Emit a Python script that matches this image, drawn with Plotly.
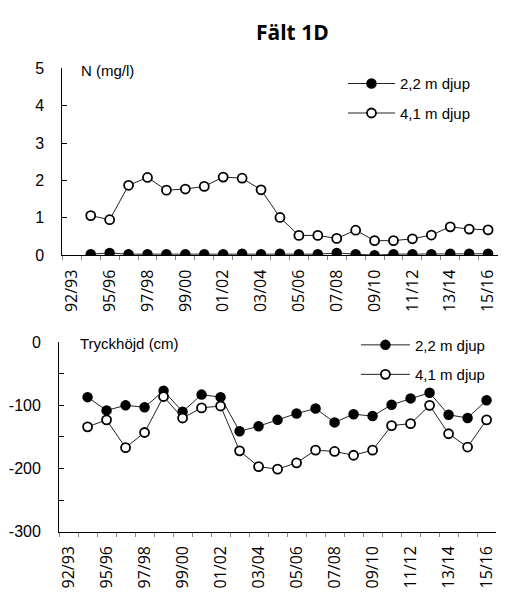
import plotly.graph_objects as go

# ---- data ----
seasons = ["92/93", "94/95", "95/96", "96/97", "97/98", "98/99", "99/00", "00/01",
           "01/02", "02/03", "03/04", "04/05", "05/06", "06/07", "07/08", "08/09",
           "09/10", "10/11", "11/12", "12/13", "13/14", "14/15", "15/16"]
season_labels = [s if i % 2 == 0 else "" for i, s in enumerate(seasons)]
data_seasons = seasons[1:]

n_22 = [0.03, 0.06, 0.03, 0.03, 0.03, 0.03, 0.03, 0.03, 0.04, 0.03, 0.04,
        0.03, 0.03, 0.06, 0.03, 0.0, 0.03, 0.03, 0.03, 0.04, 0.04, 0.04]
n_41 = [1.06, 0.95, 1.87, 2.08, 1.74, 1.77, 1.84, 2.09, 2.06, 1.75, 1.01,
        0.53, 0.53, 0.45, 0.67, 0.39, 0.39, 0.44, 0.54, 0.76, 0.70, 0.68]

p_22 = [-87, -108, -100, -103, -77, -110, -83, -87, -141, -133, -123,
        -113, -105, -127, -114, -117, -99, -89, -80, -115, -120, -92]
p_41 = [-134, -123, -167, -143, -86, -120, -104, -101, -172, -197, -201,
        -191, -171, -173, -179, -171, -132, -129, -100, -145, -166, -123]

series_names = ["2,2 m djup", "4,1 m djup"]
n_ticks = [0, 1, 2, 3, 4, 5]
p_ticks = [0, -50, -100, -150, -200, -250, -300]
p_ticktext = ["0", "", "-100", "", "-200", "", "-300"]

title = "Fält 1D"
top_label = "N (mg/l)"
bottom_label = "Tryckhöjd (cm)"

# ---- styles ----
W, H = 511, 597
SANS = "Liberation Sans, Arial, sans-serif"
XFONT = "Open Sans, Lato, sans-serif"
LINE = dict(color="#222222", width=1)
FILLED = dict(symbol="circle", size=9, color="black", line=dict(color="black", width=1.5))
OPEN = dict(symbol="circle", size=9, color="white", line=dict(color="black", width=1.8))


def fx(px):
    return px / W


def fy(py):
    return 1 - py / H


fig = go.Figure()
fig.add_trace(go.Scatter(x=data_seasons, y=n_22, name=series_names[0], mode="lines+markers",
                         line=LINE, marker=FILLED, xaxis="x", yaxis="y", legend="legend",
                         legendgroup="a"))
fig.add_trace(go.Scatter(x=data_seasons, y=n_41, name=series_names[1], mode="lines+markers",
                         line=LINE, marker=OPEN, xaxis="x", yaxis="y", legend="legend",
                         legendgroup="b"))
fig.add_trace(go.Scatter(x=data_seasons, y=p_22, name=series_names[0], mode="lines+markers",
                         line=LINE, marker=FILLED, xaxis="x2", yaxis="y2", legend="legend2",
                         legendgroup="c"))
fig.add_trace(go.Scatter(x=data_seasons, y=p_41, name=series_names[1], mode="lines+markers",
                         line=LINE, marker=OPEN, xaxis="x2", yaxis="y2", legend="legend2",
                         legendgroup="d"))

xcommon = dict(type="category", categoryorder="array", categoryarray=seasons,
               range=[-0.5, len(seasons) - 0.5], tickmode="array", tickvals=seasons,
               ticktext=season_labels, tickangle=-90, ticks="outside", tickson="boundaries",
               ticklen=4, tickcolor="#888888", tickwidth=1, showline=True, linecolor="black",
               linewidth=1, showgrid=False, zeroline=False,
               tickfont=dict(family=XFONT, size=16, color="black"), ticklabelstandoff=7)
ycommon = dict(ticks="inside", ticklen=5, tickcolor="black", tickwidth=1, showline=True,
               linecolor="black", linewidth=1, showgrid=False, zeroline=False,
               tickfont=dict(family=SANS, size=16, color="black"), ticklabelstandoff=14)

fig.update_layout(
    width=W, height=H, margin=dict(l=0, r=0, t=0, b=0),
    paper_bgcolor="white", plot_bgcolor="white",
    xaxis=dict(domain=[fx(60.7), fx(498.5)], anchor="y", **xcommon),
    yaxis=dict(domain=[fy(254.5), fy(62)], anchor="x", range=[0, 5], tickvals=n_ticks, **ycommon),
    xaxis2=dict(domain=[fx(57.4), fx(497)], anchor="y2", **xcommon),
    yaxis2=dict(domain=[fy(539), fy(344)], anchor="x2", range=[-300, 0], tickvals=p_ticks,
                ticktext=p_ticktext, **ycommon),
    legend=dict(x=fx(343), y=fy(61), xanchor="left", yanchor="top", bgcolor="rgba(0,0,0,0)",
                font=dict(family=SANS, size=15, color="black"), itemwidth=47,
                tracegroupgap=7),
    legend2=dict(x=fx(356), y=fy(330), xanchor="left", yanchor="top", bgcolor="rgba(0,0,0,0)",
                 font=dict(family=SANS, size=15, color="black"), itemwidth=49,
                 tracegroupgap=7),
    annotations=[
        dict(text="<b>%s</b>" % title, x=fx(292), y=fy(25), xref="paper", yref="paper",
             showarrow=False, xanchor="center", yanchor="middle",
             font=dict(family="Open Sans, sans-serif", size=21, color="black")),
        dict(text=top_label, x=fx(77), y=fy(64), xref="paper", yref="paper", showarrow=False,
             xanchor="left", yanchor="middle", font=dict(family=SANS, size=15, color="black")),
        dict(text=bottom_label, x=fx(76), y=fy(345), xref="paper", yref="paper",
             showarrow=False, xanchor="left", yanchor="middle",
             font=dict(family=SANS, size=15, color="black")),
    ],
)

fig.write_html("out.html")
